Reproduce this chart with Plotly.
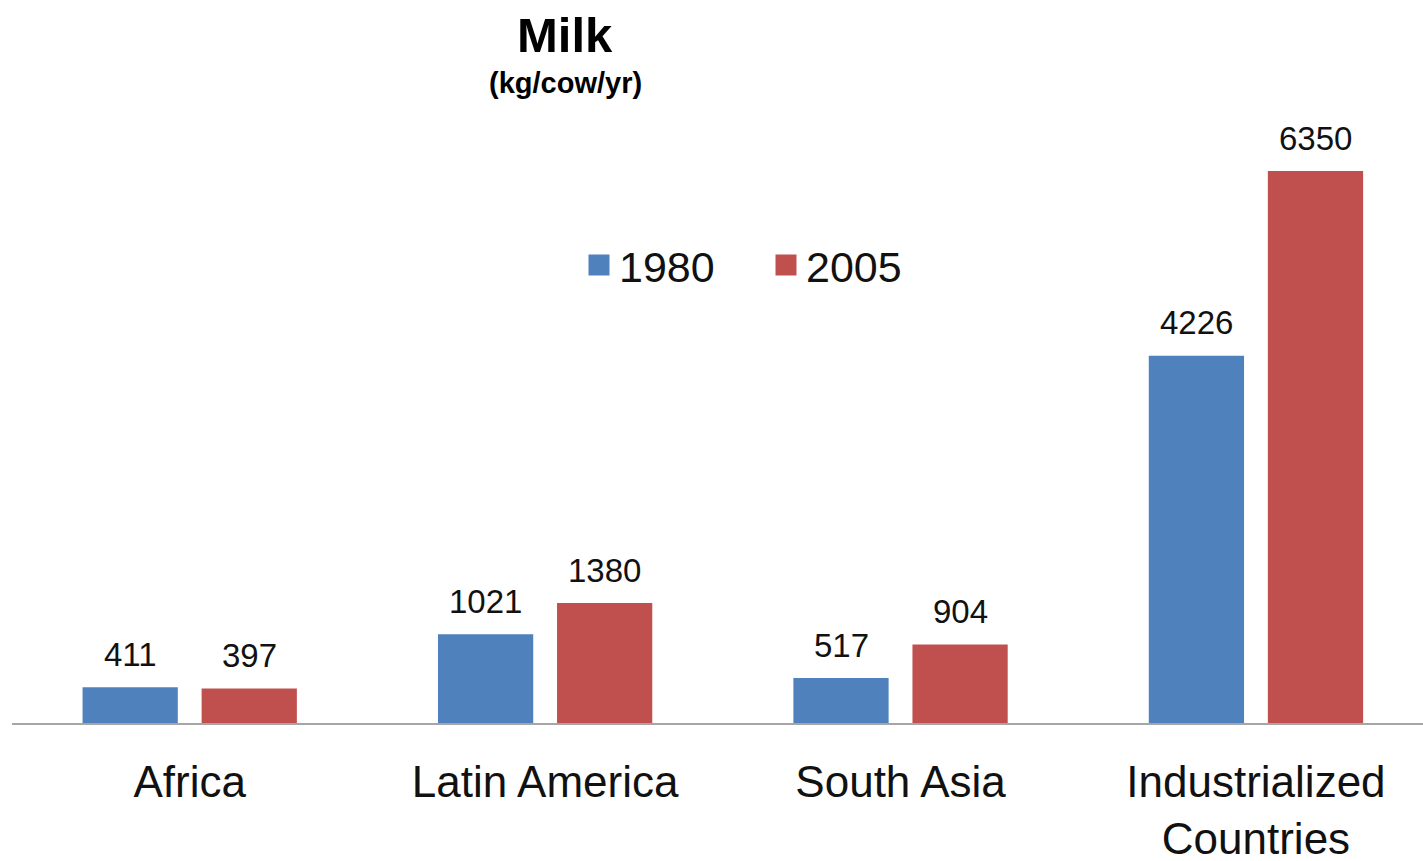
import plotly.graph_objects as go

regions = ["Africa", "Latin America", "South Asia", "Industrialized<br>Countries"]
milk_1980 = [411, 1021, 517, 4226]
milk_2005 = [397, 1380, 904, 6350]
series_names = ["1980", "2005"]
colors = ["#4F81BD", "#C0504D"]

FONT = "Liberation Sans, Arial, sans-serif"

W, H = 1423, 861
M_L, M_R, M_T, M_B = 12, 0, 100, 138
X_RANGE = [-0.5, 3.47]
BARGAP, BARGROUPGAP = 0.33, 0.2

# pixel offset of each bar centre from its category centre
px_per_cat = (W - M_L - M_R) / (X_RANGE[1] - X_RANGE[0])
slot = px_per_cat * (1 - BARGAP) / len(series_names)
offsets = [(i - (len(series_names) - 1) / 2) * slot for i in range(len(series_names))]

fig = go.Figure()
annotations = []
for name, vals, col, off in zip(series_names, [milk_1980, milk_2005], colors, offsets):
    fig.add_trace(go.Bar(
        x=regions, y=vals, name=name, marker_color=col, marker_line_width=0,
        showlegend=False, hoverinfo="x+y",
    ))
    # legend swatch
    fig.add_trace(go.Scatter(
        x=[None], y=[None], mode="markers", name=name,
        marker=dict(symbol="square", size=16, color=col, line=dict(color=col, width=5)),
    ))
    # value labels above the bars
    for r, v in zip(regions, vals):
        annotations.append(dict(
            x=r, y=v, xref="x", yref="y", text=str(v), showarrow=False,
            xshift=off, yshift=33, xanchor="center", yanchor="middle",
            font=dict(size=33, color="#111111", family=FONT),
        ))

annotations += [
    dict(text="<b>Milk</b>", x=(565 - M_L) / (W - M_L - M_R), xref="paper",
         y=(723 - 35) / 623, yref="paper", showarrow=False,
         font=dict(size=49, color="#000000"), xanchor="center", yanchor="middle"),
    dict(text="<b>(kg/cow/yr)</b>", x=(565 - M_L) / (W - M_L - M_R), xref="paper",
         y=(723 - 83) / 623, yref="paper", showarrow=False,
         font=dict(size=29, color="#000000"), xanchor="center", yanchor="middle"),
]

fig.update_layout(
    width=W, height=H,
    margin=dict(l=M_L, r=M_R, t=M_T, b=M_B, autoexpand=False),
    paper_bgcolor="white", plot_bgcolor="white",
    font=dict(family=FONT, color="#111111"),
    barmode="group", bargap=BARGAP, bargroupgap=BARGROUPGAP,
    showlegend=True,
    legend=dict(
        orientation="h", x=(579 - M_L) / (W - M_L - M_R), y=0.735,
        xanchor="left", yanchor="middle",
        font=dict(size=43, color="#111111"), bgcolor="rgba(0,0,0,0)",
        itemwidth=30, entrywidth=142, tracegroupgap=0,
    ),
    xaxis=dict(
        range=X_RANGE, showline=True, linecolor="#a6a6a6", linewidth=2,
        ticks="", showgrid=False, zeroline=False, ticklabelstandoff=19,
        automargin=False, tickfont=dict(size=44, color="#111111"),
    ),
    yaxis=dict(range=[0, 7167], visible=False, showgrid=False, zeroline=False,
               automargin=False),
    annotations=annotations,
)

fig.write_html("out.html")
